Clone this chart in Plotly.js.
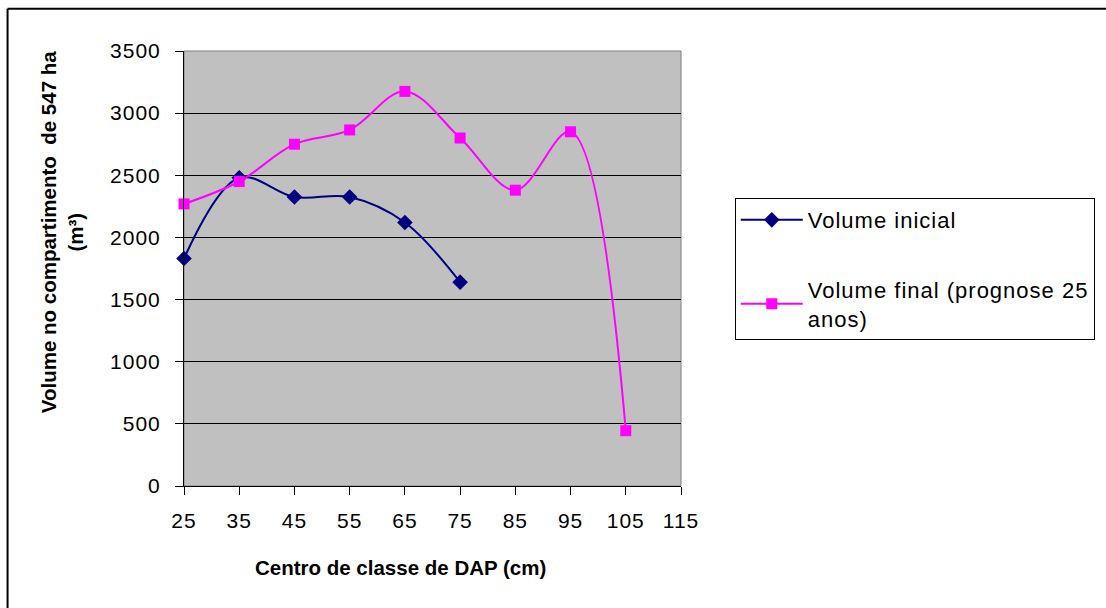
<!DOCTYPE html>
<html>
<head>
<meta charset="utf-8">
<script src="https://cdn.plot.ly/plotly-3.0.1.min.js"></script>
<style>
html,body{margin:0;padding:0;background:#fff;}
#chart{width:1106px;height:608px;}
.xtick text, .ytick text, .legendtext{letter-spacing:1px;}
</style>
</head>
<body>
<div id="chart"></div>
<script>
const dap = [25, 35, 45, 55, 65, 75, 85, 95, 105];
const volumeInicial = [1830, 2480, 2325, 2325, 2120, 1640];
const volumeFinal = [2270, 2450, 2750, 2865, 3175, 2800, 2380, 2850, 445];
const xTicks = [25, 35, 45, 55, 65, 75, 85, 95, 105, 115];
const seriesNames = ['Volume inicial', 'Volume final (prognose 25<br>anos)'];
const xTitle = 'Centro de classe de DAP (cm)';
const yTitle = 'Volume no compartimento  de 547 ha<br>(m³)';

const FONT = '"Liberation Sans", Arial, sans-serif';

const traces = [
  {
    x: dap.slice(0, volumeInicial.length), y: volumeInicial, name: seriesNames[0],
    type: 'scatter', mode: 'lines+markers', legendgroup: 'a',
    line: {color: '#000080', width: 2, shape: 'spline', smoothing: 1},
    marker: {symbol: 'diamond', size: 12, color: '#000080'},
    cliponaxis: false
  },
  {
    x: dap, y: volumeFinal, name: seriesNames[1],
    type: 'scatter', mode: 'lines+markers', legendgroup: 'b',
    line: {color: '#FF00FF', width: 2, shape: 'spline', smoothing: 1},
    marker: {symbol: 'square', size: 11, color: '#FF00FF'},
    cliponaxis: false
  }
];

const layout = {
  width: 1106, height: 608, autosize: false,
  paper_bgcolor: '#ffffff', plot_bgcolor: '#C0C0C0',
  margin: {l: 184, r: 424, t: 51, b: 122, pad: 0},
  font: {family: FONT, size: 21, color: '#000'},
  showlegend: true,
  legend: {
    x: 1.106, xanchor: 'left', y: 0.662, yanchor: 'top',
    bgcolor: '#ffffff', bordercolor: '#000000', borderwidth: 1,
    font: {family: FONT, size: 22, color: '#000'},
    tracegroupgap: 38, traceorder: 'grouped', itemwidth: 62
  },
  xaxis: {
    range: [25, 115], tickmode: 'array', tickvals: xTicks, ticktext: xTicks.map(String),
    showgrid: false, zeroline: false, showline: true, linecolor: '#000', linewidth: 1,
    ticks: 'outside', ticklen: 8, tickcolor: '#000', tickwidth: 1, ticklabelstandoff: 8,
    tickfont: {family: FONT, size: 21, color: '#000'}
  },
  yaxis: {
    range: [0, 3500], dtick: 500, tick0: 0,
    showgrid: true, gridcolor: '#000000', gridwidth: 1, zeroline: false,
    showline: true, linecolor: '#000', linewidth: 1,
    ticks: 'outside', ticklen: 8, tickcolor: '#000', tickwidth: 1, ticklabelstandoff: 10,
    tickfont: {family: FONT, size: 21, color: '#000'}
  },
  annotations: [
    {text: xTitle, xref: 'paper', yref: 'paper', x: 0.4357, y: -0.1885,
     xanchor: 'center', yanchor: 'middle', showarrow: false,
     font: {family: FONT, size: 20.5, color: '#000', weight: 'bold'}},
    {text: yTitle, xref: 'paper', yref: 'paper', x: -0.245, y: 0.584, textangle: -90,
     xanchor: 'center', yanchor: 'middle', showarrow: false,
     font: {family: FONT, size: 20.5, color: '#000', weight: 'bold'}}
  ],
  shapes: [
    {type: 'rect', xref: 'paper', yref: 'paper', x0: 0, x1: 1, y0: 0, y1: 1,
     line: {color: '#808080', width: 1}, layer: 'below'},
    {type: 'line', xref: 'paper', yref: 'paper', x0: -0.355, x1: 2, y0: 1.097, y1: 1.097,
     line: {color: '#000', width: 2}},
    {type: 'line', xref: 'paper', yref: 'paper', x0: -0.355, x1: -0.355, y0: 1.097, y1: -1,
     line: {color: '#000', width: 2}}
  ]
};

Plotly.newPlot('chart', traces, layout, {displayModeBar: false, staticPlot: true});
</script>
</body>
</html>
